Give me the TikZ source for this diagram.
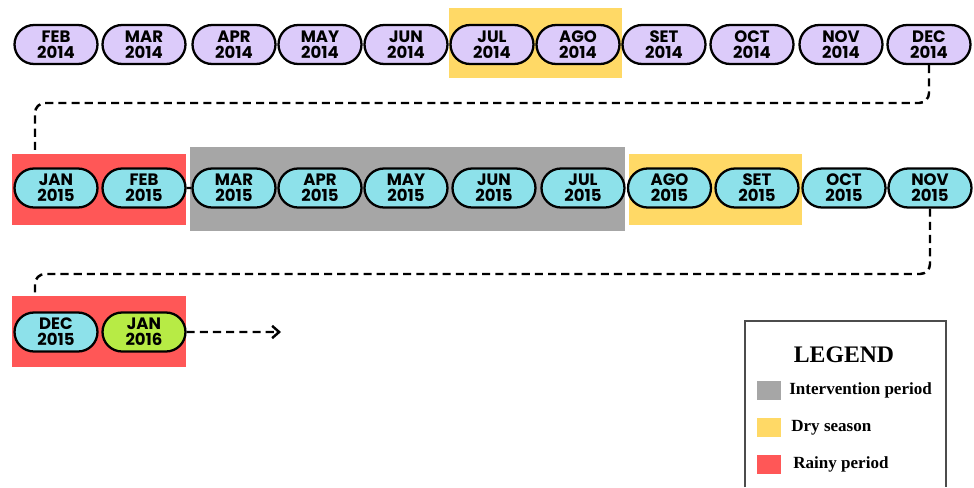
\documentclass[tikz,border=0pt]{standalone}
\usepackage{fontspec}
\usepackage{tikz}
\usetikzlibrary{shapes.misc,arrows.meta}
\newfontfamily\pillfont{Poppins}[UprightFont=* Bold]
\newfontfamily\keyfont{Liberation Serif}[UprightFont=* Bold]
\definecolor{lilac}{HTML}{DCCBFA}
\definecolor{aqua}{HTML}{8DE1EA}
\definecolor{lime}{HTML}{B7EB45}
\definecolor{dry}{HTML}{FFD966}
\definecolor{rainy}{HTML}{FF5757}
\definecolor{interv}{HTML}{A6A6A6}
\tikzset{
  month/.style={rounded rectangle, draw=black, line width=1.3pt, minimum width=1.66cm,
    minimum height=0.78cm, inner sep=0pt, align=center,
    font=\pillfont\fontsize{9.4}{9}\selectfont},
  season/.style={rectangle, inner sep=0pt, minimum height=1.42cm},
  route/.style={dashed, dash pattern=on 4.6pt off 2.9pt, line width=1.4pt, rounded corners=0.2cm},
  swatch/.style={rectangle, inner sep=0pt, minimum width=0.48cm, minimum height=0.38cm},
  keytext/.style={anchor=west, inner sep=0pt, font=\keyfont\fontsize{9.7}{11}\selectfont}
}

\begin{document}
\begin{tikzpicture}[x=0.02cm,y=-0.02cm]
          \useasboundingbox (0,0) rectangle (974,487);

          % season boxes
          \node[season, fill=dry, minimum width=3.46cm, minimum height=1.4cm] (dryA) at (535.5,43) {};
          \node[season, fill=rainy, minimum width=3.48cm] (rainyA) at (99,189.5) {};
          \node[season, fill=interv, minimum width=8.7cm, minimum height=1.68cm] (intA) at (407.5,189) {};
          \node[season, fill=dry, minimum width=3.46cm] (dryB) at (715.5,189.5) {};
          \node[season, fill=rainy, minimum width=3.48cm] (rainyB) at (99,331.5) {};

          % 2014
          \node[month, fill=lilac] (feb14) at (56,44.5) {FEB\\2014};
          \node[month, fill=lilac] (mar14) at (144,44.5) {MAR\\2014};
          \node[month, fill=lilac] (apr14) at (234,44.5) {APR\\2014};
          \node[month, fill=lilac] (may14) at (320,44.5) {MAY\\2014};
          \node[month, fill=lilac] (jun14) at (406,44.5) {JUN\\2014};
          \node[month, fill=lilac] (jul14) at (492,44.5) {JUL\\2014};
          \node[month, fill=lilac] (ago14) at (578,44.5) {AGO\\2014};
          \node[month, fill=lilac] (set14) at (664,44.5) {SET\\2014};
          \node[month, fill=lilac] (oct14) at (752,44.5) {OCT\\2014};
          \node[month, fill=lilac] (nov14) at (841,44.5) {NOV\\2014};
          \node[month, fill=lilac] (dec14) at (929,44.5) {DEC\\2014};

          % 2015
          \node[month, fill=aqua] (jan15) at (56,188) {JAN\\2015};
          \node[month, fill=aqua] (feb15) at (144,188) {FEB\\2015};
          \node[month, fill=aqua] (mar15) at (234,188) {MAR\\2015};
          \node[month, fill=aqua] (apr15) at (320,188) {APR\\2015};
          \node[month, fill=aqua] (may15) at (406,188) {MAY\\2015};
          \node[month, fill=aqua] (jun15) at (494,188) {JUN\\2015};
          \node[month, fill=aqua] (jul15) at (583,188) {JUL\\2015};
          \node[month, fill=aqua] (ago15) at (669.5,188) {AGO\\2015};
          \node[month, fill=aqua] (set15) at (757,188) {SET\\2015};
          \node[month, fill=aqua] (oct15) at (844,188) {OCT\\2015};
          \node[month, fill=aqua] (nov15) at (930,188) {NOV\\2015};

          \node[month, fill=aqua] (dec15) at (56,332) {DEC\\2015};
          \node[month, fill=lime] (jan16) at (144,332) {JAN\\2016};

          % short links
          \draw[line width=1.3pt] (feb15) -- (mar15);
          \draw[line width=1.3pt] (oct15) -- (nov15);

          % row changes
          \coordinate (bendA) at (0,103);
          \coordinate (inA) at (35,154);
          \draw[route] (dec14.south) -- (dec14.south |- bendA) -| (inA);
          \coordinate (bendB) at (0,274);
          \coordinate (inB) at (35,296);
          \draw[route] (nov15.south) -- (nov15.south |- bendB) -| (inB);
          \coordinate (onward) at (281,332);
          \draw[route,-{Straight Barb[length=4pt,width=7pt]}] (jan16) -- (onward);

          % legend
          \draw[line width=0.6pt, black!70] (745,487) |- (946,321) -- (946,487);
          \node[font=\keyfont\fontsize{13.5}{15}\selectfont] (legtitle) at (844,355) {LEGEND};
          \node[swatch, fill=interv] (keyint) at (769,390.5) {};
          \node[keytext] (txtint) at (789,390) {Intervention period};
          \node[swatch, fill=dry] (keydry) at (769,427) {};
          \node[keytext] (txtdry) at (791,427.5) {Dry season};
          \node[swatch, fill=rainy] (keyrain) at (769,464) {};
          \node[keytext] (txtrain) at (793,464.5) {Rainy period};
\end{tikzpicture}
\end{document}
